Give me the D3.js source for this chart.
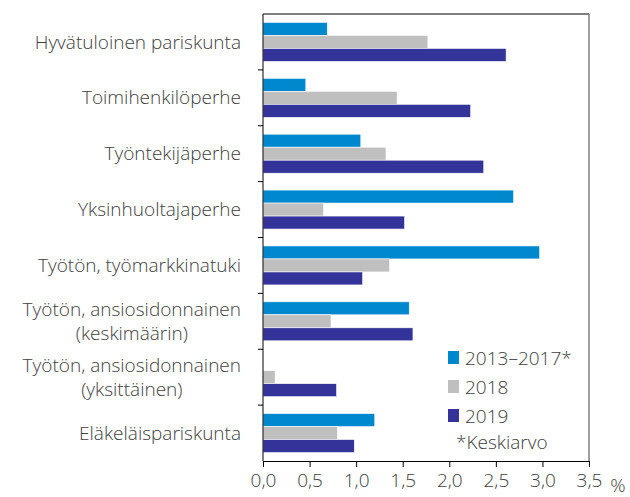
<!DOCTYPE html>
<html>
<head>
<meta charset="utf-8">
<script src="https://cdn.jsdelivr.net/npm/d3@7"></script>
<style>
body { margin: 0; background: #fff; }
text { font-family: "Open Sans", "Lato", sans-serif; font-weight: 300; fill: #404040; }
</style>
</head>
<body>
<script>
var categories = [
  ["Hyvätuloinen pariskunta"],
  ["Toimihenkilöperhe"],
  ["Työntekijäperhe"],
  ["Yksinhuoltajaperhe"],
  ["Työtön, työmarkkinatuki"],
  ["Työtön, ansiosidonnainen", "(keskimäärin)"],
  ["Työtön, ansiosidonnainen", "(yksittäinen)"],
  ["Eläkeläispariskunta"]
];
var seriesNames = ["2013–2017*", "2018", "2019"];
var avg1317 = [0.69, 0.46, 1.05, 2.69, 2.97, 1.57, null, 1.20];
var v2018 = [1.77, 1.44, 1.32, 0.65, 1.36, 0.73, 0.13, 0.80];
var v2019 = [2.61, 2.23, 2.37, 1.52, 1.07, 1.61, 0.79, 0.98];
var xTicks = [0, 0.5, 1, 1.5, 2, 2.5, 3, 3.5];
var colors = ["#0088cf", "#bfbfbf", "#333399"];

var margin = {top: 14, left: 263, right: 41, bottom: 36},
    width = 630 - margin.left - margin.right,
    height = 497 - margin.top - margin.bottom;
var fs = "19px";

var svg = d3.select("body").append("svg")
    .attr("width", 630).attr("height", 497);
var g = svg.append("g").attr("transform", "translate(" + margin.left + "," + margin.top + ")");

var x = d3.scaleLinear().domain([0, 3.5]).range([0, width]);
var yOuter = d3.scaleBand().domain(d3.range(categories.length)).range([0, height]);

var series = [avg1317, v2018, v2019];

// frame
g.append("line").attr("x1", 0).attr("x2", width).attr("y1", 0).attr("y2", 0).attr("stroke", "#000");
g.append("line").attr("x1", width).attr("x2", width).attr("y1", 0).attr("y2", height).attr("stroke", "#808080").attr("stroke-width", 1.5);

series.forEach(function(s, si) {
  g.selectAll(".bar" + si)
    .data(s.map(function(v, i) { return {v: v, i: i}; }).filter(function(d) { return d.v != null; }))
    .enter().append("rect")
    .attr("x", 0)
    .attr("y", function(d) { return yOuter(d.i) + (yOuter.bandwidth() - 39) / 2 + si * 13; })
    .attr("height", 13)
    .attr("width", function(d) { return x(d.v); })
    .attr("fill", colors[si])
    .attr("stroke", "#fff").attr("stroke-width", 0.6);
});

// left axis
g.append("line").attr("x1", 0).attr("x2", 0).attr("y1", 0).attr("y2", height).attr("stroke", "#000");
g.selectAll(".ytick").data(d3.range(1, categories.length)).enter().append("line")
  .attr("x1", -5).attr("x2", 0)
  .attr("y1", function(d) { return yOuter(d); }).attr("y2", function(d) { return yOuter(d); })
  .attr("stroke", "#000");

// category labels
categories.forEach(function(lines, i) {
  var cy = yOuter(i) + yOuter.bandwidth() / 2;
  if (lines.length === 1) {
    g.append("text").attr("x", -22).attr("y", cy).attr("dy", "0.35em")
      .attr("text-anchor", "end").style("font-size", fs).text(lines[0]);
  } else {
    var t = g.append("text").attr("x", -22).attr("y", cy - 12).attr("dy", "0.35em")
      .attr("text-anchor", "end").style("font-size", fs).text(lines[0]);
    var w = t.node().getComputedTextLength();
    g.append("text").attr("x", -22 - w / 2).attr("y", cy + 12).attr("dy", "0.35em")
      .attr("text-anchor", "middle").style("font-size", fs).text(lines[1]);
  }
});

// bottom axis
var xAxis = d3.axisBottom(x).tickValues(xTicks).tickSize(6).tickPadding(7)
  .tickFormat(function(d) { return d3.format(".1f")(d).replace(".", ","); });
var ax = g.append("g").attr("transform", "translate(0," + height + ")").call(xAxis);
ax.select(".domain").attr("stroke", "#000");
ax.selectAll("line").attr("stroke", "#000");
ax.selectAll("text").style("font-size", fs).style("font-family", null).attr("fill", "#404040");
g.append("text").attr("x", width + 29).attr("y", height + 24).attr("dy", "0.35em")
  .attr("text-anchor", "middle").style("font-size", fs).text("%");

// legend
var leg = g.append("g").attr("transform", "translate(185,337)");
seriesNames.forEach(function(n, i) {
  leg.append("rect").attr("x", 0).attr("y", i * 29).attr("width", 11).attr("height", 13).attr("fill", colors[i]);
  leg.append("text").attr("x", 17).attr("y", i * 29 + 7).attr("dy", "0.35em").style("font-size", fs).text(n);
});
leg.append("text").attr("x", 8).attr("y", 91).attr("dy", "0.35em").style("font-size", fs).text("*Keskiarvo");
</script>
</body>
</html>
